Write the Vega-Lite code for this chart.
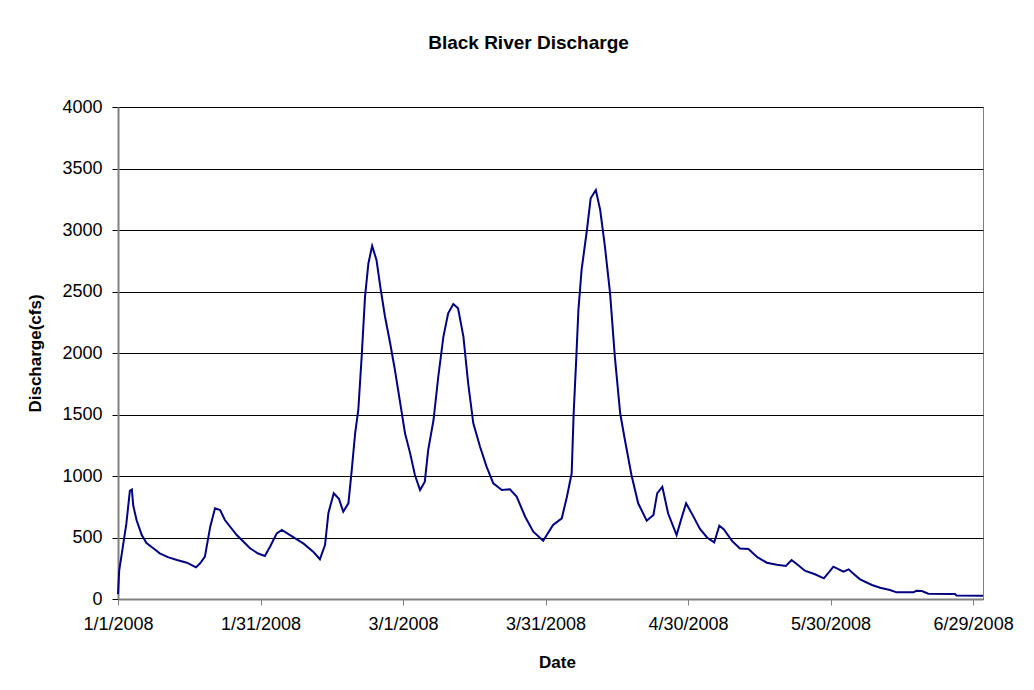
{
  "$schema": "https://vega.github.io/schema/vega-lite/v6.json",
  "autosize": {"type": "none"},
  "width": 865,
  "height": 492,
  "padding": {"left": 118, "top": 107, "right": 51, "bottom": 91},
  "background": "#ffffff",
  "title": {
    "text": "Black River Discharge",
    "font": "Liberation Sans",
    "fontSize": 19,
    "fontWeight": "bold",
    "color": "#000000",
    "anchor": "middle",
    "dx": -22,
    "offset": 45
  },
  "config": {
    "view": {"stroke": "#808080", "strokeWidth": 1},
    "font": "Liberation Sans"
  },
  "data": {
    "values": [
      {"date": "2008-01-01T00:00:00", "discharge": 40},
      {"date": "2008-01-01T06:00:00", "discharge": 230},
      {"date": "2008-01-02T00:00:00", "discharge": 420},
      {"date": "2008-01-02T18:00:00", "discharge": 610},
      {"date": "2008-01-03T12:00:00", "discharge": 880},
      {"date": "2008-01-03T22:00:00", "discharge": 890},
      {"date": "2008-01-04T05:00:00", "discharge": 760},
      {"date": "2008-01-04T22:00:00", "discharge": 640},
      {"date": "2008-01-06T00:00:00", "discharge": 520},
      {"date": "2008-01-07T00:00:00", "discharge": 455},
      {"date": "2008-01-08T12:00:00", "discharge": 410},
      {"date": "2008-01-09T19:00:00", "discharge": 371},
      {"date": "2008-01-11T12:00:00", "discharge": 340},
      {"date": "2008-01-13T10:00:00", "discharge": 317},
      {"date": "2008-01-15T12:00:00", "discharge": 295},
      {"date": "2008-01-17T10:00:00", "discharge": 257},
      {"date": "2008-01-18T07:00:00", "discharge": 290},
      {"date": "2008-01-19T07:00:00", "discharge": 344},
      {"date": "2008-01-20T10:00:00", "discharge": 588},
      {"date": "2008-01-21T10:00:00", "discharge": 737},
      {"date": "2008-01-22T12:00:00", "discharge": 723},
      {"date": "2008-01-23T12:00:00", "discharge": 642},
      {"date": "2008-01-26T00:00:00", "discharge": 520},
      {"date": "2008-01-28T19:00:00", "discharge": 412},
      {"date": "2008-01-30T12:00:00", "discharge": 370},
      {"date": "2008-01-31T22:00:00", "discharge": 350},
      {"date": "2008-02-02T00:00:00", "discharge": 425},
      {"date": "2008-02-03T10:00:00", "discharge": 534},
      {"date": "2008-02-04T12:00:00", "discharge": 561},
      {"date": "2008-02-06T05:00:00", "discharge": 520},
      {"date": "2008-02-09T00:00:00", "discharge": 452},
      {"date": "2008-02-11T02:00:00", "discharge": 385},
      {"date": "2008-02-12T12:00:00", "discharge": 323},
      {"date": "2008-02-13T14:00:00", "discharge": 440},
      {"date": "2008-02-14T07:00:00", "discharge": 700},
      {"date": "2008-02-15T10:00:00", "discharge": 859},
      {"date": "2008-02-16T12:00:00", "discharge": 815},
      {"date": "2008-02-17T10:00:00", "discharge": 710},
      {"date": "2008-02-18T12:00:00", "discharge": 778},
      {"date": "2008-02-19T05:00:00", "discharge": 1049},
      {"date": "2008-02-19T22:00:00", "discharge": 1347},
      {"date": "2008-02-20T14:00:00", "discharge": 1537},
      {"date": "2008-02-21T07:00:00", "discharge": 1970},
      {"date": "2008-02-22T00:00:00", "discharge": 2458},
      {"date": "2008-02-22T17:00:00", "discharge": 2729},
      {"date": "2008-02-23T12:00:00", "discharge": 2870},
      {"date": "2008-02-24T10:00:00", "discharge": 2756},
      {"date": "2008-02-25T05:00:00", "discharge": 2539},
      {"date": "2008-02-26T05:00:00", "discharge": 2295},
      {"date": "2008-02-27T07:00:00", "discharge": 2079},
      {"date": "2008-02-28T07:00:00", "discharge": 1862},
      {"date": "2008-02-29T10:00:00", "discharge": 1591},
      {"date": "2008-03-01T10:00:00", "discharge": 1347},
      {"date": "2008-03-02T12:00:00", "discharge": 1184},
      {"date": "2008-03-03T12:00:00", "discharge": 1008},
      {"date": "2008-03-04T14:00:00", "discharge": 886},
      {"date": "2008-03-05T14:00:00", "discharge": 954},
      {"date": "2008-03-06T07:00:00", "discharge": 1211},
      {"date": "2008-03-07T10:00:00", "discharge": 1455},
      {"date": "2008-03-08T10:00:00", "discharge": 1807},
      {"date": "2008-03-09T12:00:00", "discharge": 2133},
      {"date": "2008-03-10T12:00:00", "discharge": 2323},
      {"date": "2008-03-11T14:00:00", "discharge": 2398},
      {"date": "2008-03-12T14:00:00", "discharge": 2363},
      {"date": "2008-03-13T17:00:00", "discharge": 2133},
      {"date": "2008-03-14T17:00:00", "discharge": 1754},
      {"date": "2008-03-15T19:00:00", "discharge": 1428},
      {"date": "2008-03-17T05:00:00", "discharge": 1238},
      {"date": "2008-03-18T14:00:00", "discharge": 1076},
      {"date": "2008-03-20T00:00:00", "discharge": 941},
      {"date": "2008-03-21T19:00:00", "discharge": 886},
      {"date": "2008-03-23T12:00:00", "discharge": 892},
      {"date": "2008-03-24T22:00:00", "discharge": 832},
      {"date": "2008-03-26T17:00:00", "discharge": 669},
      {"date": "2008-03-28T10:00:00", "discharge": 547},
      {"date": "2008-03-30T12:00:00", "discharge": 474},
      {"date": "2008-04-01T14:00:00", "discharge": 602},
      {"date": "2008-04-03T10:00:00", "discharge": 656},
      {"date": "2008-04-04T12:00:00", "discharge": 832},
      {"date": "2008-04-05T12:00:00", "discharge": 1022},
      {"date": "2008-04-05T22:00:00", "discharge": 1510},
      {"date": "2008-04-06T10:00:00", "discharge": 1916},
      {"date": "2008-04-06T22:00:00", "discharge": 2350},
      {"date": "2008-04-07T14:00:00", "discharge": 2675},
      {"date": "2008-04-08T17:00:00", "discharge": 3000},
      {"date": "2008-04-09T12:00:00", "discharge": 3258},
      {"date": "2008-04-10T14:00:00", "discharge": 3325},
      {"date": "2008-04-11T12:00:00", "discharge": 3163},
      {"date": "2008-04-12T12:00:00", "discharge": 2864},
      {"date": "2008-04-13T14:00:00", "discharge": 2485},
      {"date": "2008-04-14T14:00:00", "discharge": 1970},
      {"date": "2008-04-15T17:00:00", "discharge": 1510},
      {"date": "2008-04-16T17:00:00", "discharge": 1293},
      {"date": "2008-04-18T02:00:00", "discharge": 1008},
      {"date": "2008-04-19T12:00:00", "discharge": 778},
      {"date": "2008-04-21T07:00:00", "discharge": 637},
      {"date": "2008-04-22T17:00:00", "discharge": 683},
      {"date": "2008-04-23T12:00:00", "discharge": 859},
      {"date": "2008-04-24T14:00:00", "discharge": 913},
      {"date": "2008-04-25T19:00:00", "discharge": 697},
      {"date": "2008-04-27T14:00:00", "discharge": 520},
      {"date": "2008-04-28T17:00:00", "discharge": 669},
      {"date": "2008-04-29T14:00:00", "discharge": 778},
      {"date": "2008-05-01T00:00:00", "discharge": 680},
      {"date": "2008-05-02T12:00:00", "discharge": 570},
      {"date": "2008-05-04T00:00:00", "discharge": 500},
      {"date": "2008-05-05T12:00:00", "discharge": 460},
      {"date": "2008-05-06T14:00:00", "discharge": 596},
      {"date": "2008-05-07T12:00:00", "discharge": 568},
      {"date": "2008-05-09T07:00:00", "discharge": 470},
      {"date": "2008-05-10T22:00:00", "discharge": 410},
      {"date": "2008-05-12T17:00:00", "discharge": 406},
      {"date": "2008-05-14T14:00:00", "discharge": 340},
      {"date": "2008-05-16T14:00:00", "discharge": 295},
      {"date": "2008-05-18T17:00:00", "discharge": 279},
      {"date": "2008-05-20T14:00:00", "discharge": 268},
      {"date": "2008-05-21T19:00:00", "discharge": 317},
      {"date": "2008-05-23T00:00:00", "discharge": 280},
      {"date": "2008-05-24T14:00:00", "discharge": 230},
      {"date": "2008-05-26T17:00:00", "discharge": 201},
      {"date": "2008-05-28T14:00:00", "discharge": 168},
      {"date": "2008-05-29T14:00:00", "discharge": 215},
      {"date": "2008-05-30T14:00:00", "discharge": 263},
      {"date": "2008-06-01T17:00:00", "discharge": 222},
      {"date": "2008-06-02T19:00:00", "discharge": 241},
      {"date": "2008-06-04T00:00:00", "discharge": 200},
      {"date": "2008-06-05T05:00:00", "discharge": 160},
      {"date": "2008-06-07T17:00:00", "discharge": 114},
      {"date": "2008-06-09T10:00:00", "discharge": 92},
      {"date": "2008-06-11T12:00:00", "discharge": 73},
      {"date": "2008-06-12T22:00:00", "discharge": 54},
      {"date": "2008-06-16T10:00:00", "discharge": 54},
      {"date": "2008-06-17T02:00:00", "discharge": 67},
      {"date": "2008-06-18T05:00:00", "discharge": 65},
      {"date": "2008-06-19T14:00:00", "discharge": 43},
      {"date": "2008-06-25T05:00:00", "discharge": 41},
      {"date": "2008-06-25T12:00:00", "discharge": 28},
      {"date": "2008-07-01T02:00:00", "discharge": 26}
    ]
  },
  "mark": {"type": "line", "color": "#000080", "strokeWidth": 2, "interpolate": "linear"},
  "encoding": {
    "x": {
      "field": "date",
      "type": "temporal",
      "scale": {"domain": [{"year": 2008, "month": 1, "date": 1}, {"year": 2008, "month": 7, "date": 1, "hours": 2}], "nice": false},
      "axis": {
        "title": "Date",
        "titleFont": "Liberation Sans",
        "titleFontSize": 17,
        "titleFontWeight": "bold",
        "titleColor": "#000000",
        "titleX": 439,
        "titleY": 55,
        "values": [
          {"year": 2008, "month": 1, "date": 1},
          {"year": 2008, "month": 1, "date": 31},
          {"year": 2008, "month": 3, "date": 1},
          {"year": 2008, "month": 3, "date": 31},
          {"year": 2008, "month": 4, "date": 30},
          {"year": 2008, "month": 5, "date": 30},
          {"year": 2008, "month": 6, "date": 29}
        ],
        "format": "%-m/%-d/%Y",
        "labelFont": "Liberation Sans",
        "labelFontSize": 18,
        "labelColor": "#000000",
        "labelPadding": 10,
        "labelOverlap": false,
        "labelFlush": false,
        "tickSize": 6,
        "tickColor": "#808080",
        "domainColor": "#808080",
        "domainWidth": 2,
        "grid": false
      }
    },
    "y": {
      "field": "discharge",
      "type": "quantitative",
      "scale": {"domain": [0, 4000], "nice": false},
      "axis": {
        "title": "Discharge(cfs)",
        "titleFont": "Liberation Sans",
        "titleFontSize": 17,
        "titleFontWeight": "bold",
        "titleColor": "#000000",
        "titleX": -74,
        "titleY": 246,
        "values": [0, 500, 1000, 1500, 2000, 2500, 3000, 3500, 4000],
        "format": "d",
        "labelFont": "Liberation Sans",
        "labelFontSize": 18,
        "labelColor": "#000000",
        "labelPadding": 10,
        "tickSize": 6,
        "tickColor": "#000000",
        "domainColor": "#808080",
        "domainWidth": 2,
        "grid": true,
        "gridColor": "#000000",
        "gridWidth": 1,
        "gridOpacity": 1
      }
    }
  }
}
